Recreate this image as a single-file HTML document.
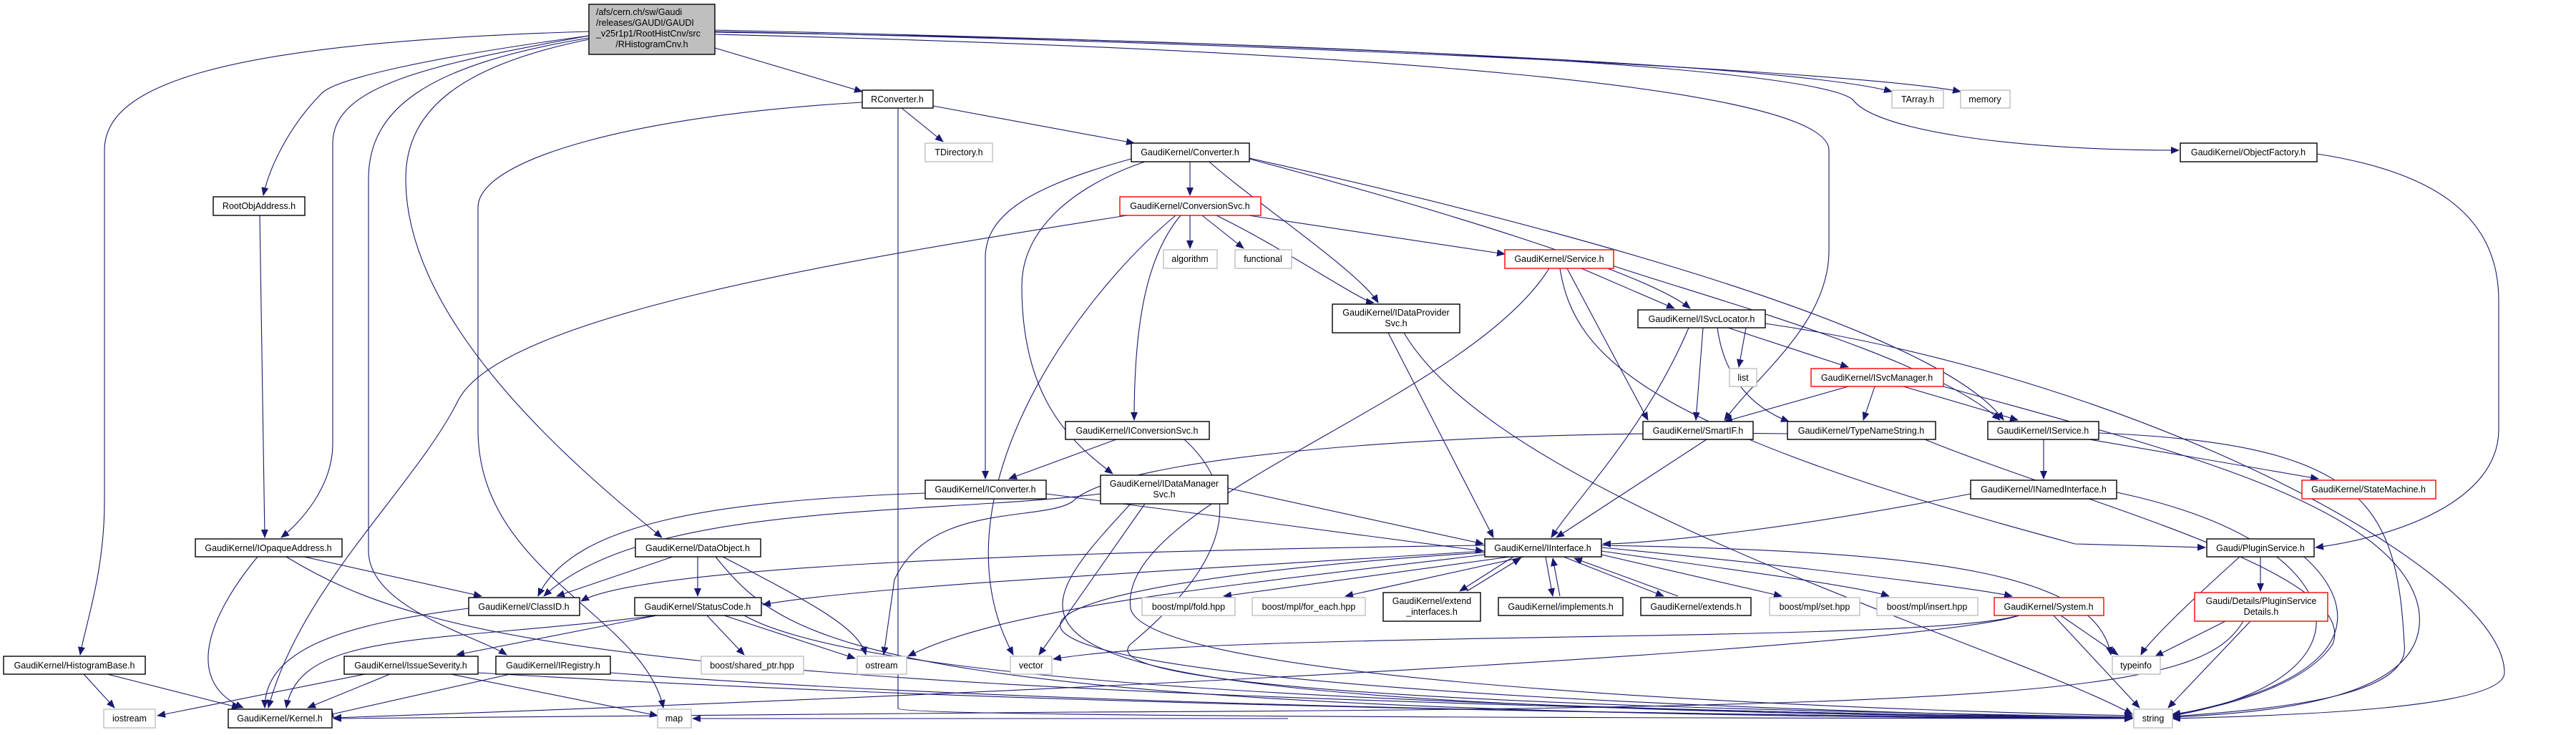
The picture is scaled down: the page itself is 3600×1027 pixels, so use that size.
<!DOCTYPE html>
<html><head><meta charset="utf-8"><style>
html,body{margin:0;padding:0;background:#fff;}
svg{display:block;}
text{font-family:"Liberation Sans",sans-serif;font-size:12.5px;fill:#000;}
.n{fill:#fff;stroke:#000;stroke-width:1.4;}
.g{fill:#fff;stroke:#bfbfbf;stroke-width:1.4;}
.r{fill:#fff;stroke:#ff0000;stroke-width:1.4;}
path{fill:none;stroke:#191970;stroke-width:1.1;}
</style></head><body>
<svg width="3600" height="1027" viewBox="0 0 3600 1027" xmlns="http://www.w3.org/2000/svg">
<defs><marker id="a" markerWidth="12" markerHeight="10" refX="11" refY="5" orient="auto" markerUnits="userSpaceOnUse"><polygon points="0,0 12,5 0,10" fill="#191970"/></marker></defs>
<g marker-end="url(#a)">
<!-- main -->
<path d="M823,44 C300,60 146,120 146,210 L146,700 C146,800 120,870 112,915"/>
<path d="M823,50 C600,80 470,110 450,130 C400,180 375,240 368,273"/>
<path d="M823,50 C600,90 465,120 465,200 L465,620 C465,680 420,730 393,751"/>
<path d="M823,53 C600,90 515,150 515,250 L515,770 C515,850 670,890 708,915"/>
<path d="M823,55 C650,90 567,150 567,250 C567,450 800,650 925,751"/>
<path d="M999,67 L1205,128"/>
<path d="M999,42 C1800,60 2500,90 2644,128"/>
<path d="M999,44 C1800,60 2600,100 2740,128"/>
<path d="M999,45 C2000,60 2550,100 2590,140 C2620,180 2800,210 3045,210"/>
<path d="M999,48 C1900,70 2556,120 2556,210 L2556,350 C2556,450 2460,520 2410,587"/>
<!-- ObjectFactory -->
<path d="M3238,215 C3400,240 3492,300 3492,420 L3492,600 C3492,700 3350,750 3236,765"/>
<!-- RConverter -->
<path d="M1260,151 L1318,198"/>
<path d="M1304,148 L1585,200"/>
<path d="M1255,151 L1255,990 C1260,1000 2000,1003 2980,1004"/>
<path d="M1205,143 C900,160 668,220 668,290 L668,600 C668,800 900,860 927,989"/>
<!-- Converter -->
<path d="M1663,226 L1663,273"/>
<path d="M1690,226 C1750,280 1900,380 1926,423"/>
<path d="M1581,222 C1440,260 1377,300 1377,360 L1377,669"/>
<path d="M1600,226 C1500,260 1428,320 1428,400 C1428,560 1500,620 1555,662"/>
<path d="M1746,222 C2000,290 2300,380 2362,431"/>
<path d="M1746,221 C2100,300 2700,450 2800,587"/>
<!-- ConversionSvc -->
<path d="M1663,301 L1663,347"/>
<path d="M1680,301 L1738,347"/>
<path d="M1745,301 L2103,355"/>
<path d="M1700,301 C1800,350 1900,420 1920,423"/>
<path d="M1650,301 C1600,360 1585,460 1585,587"/>
<path d="M1643,301 C1500,420 1300,700 1416,915"/>
<path d="M1575,301 C1200,360 700,440 640,560 C580,680 420,820 375,989"/>
<!-- Service -->
<path d="M2210,375 L2340,431"/>
<path d="M2250,370 C2400,420 2700,500 2795,587"/>
<path d="M2190,375 L2303,587"/>
<path d="M2165,375 C2050,560 1560,700 1580,850 C1600,950 2500,990 2980,1000"/>
<path d="M2180,375 C2200,500 2300,600 2900,760 L3082,765"/>
<path d="M1940,465 L2087,751"/>
<path d="M1962,465 C2100,700 2800,900 2980,998"/>
<!-- ISvcLocator -->
<path d="M2440,458 L2430,513"/>
<path d="M2415,458 L2583,513"/>
<path d="M2380,458 L2370,587"/>
<path d="M2400,458 C2410,530 2450,570 2500,589"/>
<path d="M2360,458 C2300,600 2200,700 2168,751"/>
<path d="M2467,452 C3000,530 3500,800 3500,940 C3500,990 3200,1000 3036,1004"/>
<!-- ISvcManager -->
<path d="M2583,540 L2410,589"/>
<path d="M2620,540 L2604,587"/>
<path d="M2660,540 L2820,587"/>
<path d="M2716,540 C3000,620 3350,700 3380,850 C3400,970 3200,995 3036,1002"/>
<path d="M2385,614 L2175,751"/>
<path d="M2498,606 C2000,600 1560,640 1500,700 C1460,730 1300,700 1250,810 L1235,915"/>
<path d="M2690,614 C2900,700 3300,800 3260,900 C3220,960 3100,990 3036,998"/>
<path d="M2856,614 L2856,669"/>
<path d="M2920,614 L3240,669"/>
<path d="M2933,605 C3300,620 3350,700 3360,900 C3370,970 3200,990 3036,1001"/>
<path d="M2754,690 C2500,740 2300,760 2240,760"/>
<path d="M2958,688 C3300,760 3330,950 3036,1000"/>
<!-- PluginService -->
<path d="M3130,778 C3050,850 3000,900 2992,915"/>
<path d="M3159,778 L3159,826"/>
<path d="M3220,778 C3300,850 3300,950 3036,999"/>
<path d="M3110,868 L3012,917"/>
<path d="M3145,868 L3030,989"/>
<path d="M3135,868 C3080,960 2900,990 1500,995 C1000,998 600,1002 466,1004"/>
<!-- System -->
<path d="M2880,860 L2960,915"/>
<path d="M2870,860 L2990,989"/>
<path d="M2820,860 C2700,900 1700,880 1472,921"/>
<path d="M2822,860 C2700,900 1700,960 466,1003"/>
<!-- IInterface -->
<path d="M2075,762 C1500,770 900,790 812,840"/>
<path d="M2075,770 C1600,800 1200,820 1066,845"/>
<path d="M2075,775 C1700,820 1400,850 1269,917"/>
<path d="M2110,778 L1710,833"/>
<path d="M2130,778 L1880,833"/>
<path d="M2115,778 L2040,826"/>
<path d="M2050,826 L2125,780"/>
<path d="M2160,778 L2170,833"/>
<path d="M2180,833 L2170,780"/>
<path d="M2185,778 L2325,833"/>
<path d="M2345,833 L2200,780"/>
<path d="M2238,775 L2490,833"/>
<path d="M2238,770 C2450,800 2600,820 2640,833"/>
<path d="M2238,765 C2500,790 2750,820 2812,833"/>
<path d="M2238,762 C2700,770 2930,800 2950,915"/>
<path d="M2075,772 C1300,820 1000,960 2980,1004"/>
<!-- IConversionSvc / IConverter / IDataManagerSvc -->
<path d="M1560,614 L1410,669"/>
<path d="M1655,614 C1750,700 1700,800 1580,900 C1500,980 2600,995 2980,1002"/>
<path d="M1462,690 L2073,770"/>
<path d="M1293,689 C1000,700 800,730 752,833"/>
<path d="M1716,682 L2073,760"/>
<path d="M1538,690 C1300,720 900,700 760,833"/>
<path d="M1600,704 L1452,915"/>
<path d="M1580,704 C1400,900 1300,990 2980,1003"/>
<!-- DataObject / StatusCode -->
<path d="M940,778 L778,833"/>
<path d="M975,778 L975,833"/>
<path d="M1010,778 C1150,850 1200,880 1210,915"/>
<path d="M1000,778 C1100,900 1200,1000 2980,1004"/>
<path d="M918,860 L638,915"/>
<path d="M918,860 C600,900 420,880 400,989"/>
<path d="M988,860 L1040,915"/>
<path d="M1012,860 L1195,920"/>
<path d="M1040,860 C1200,950 1900,990 2980,1003"/>
<!-- IOpaqueAddress etc -->
<path d="M425,778 L673,833"/>
<path d="M360,778 C300,850 250,950 340,989"/>
<path d="M400,778 C600,900 900,970 2980,1004"/>
<path d="M363,301 L370,751"/>
<path d="M117,942 L160,989"/>
<path d="M150,942 L335,989"/>
<path d="M510,942 L220,1000"/>
<path d="M545,942 L430,989"/>
<path d="M630,942 L919,1000"/>
<path d="M668,940 C1500,990 2500,1000 2980,1004"/>
<path d="M713,942 L455,1000"/>
<path d="M853,940 C1500,990 2500,1000 2980,1004"/>
<path d="M655,850 C500,870 370,900 370,989"/>
<path d="M1800,1004 L968,1004"/>
</g>
<!-- nodes -->
<rect x="823" y="6" width="176" height="70" fill="#bfbfbf" stroke="#000" stroke-width="1.4"/>
<text x="833" y="21">/afs/cern.ch/sw/Gaudi</text>
<text x="833" y="36">/releases/GAUDI/GAUDI</text>
<text x="833" y="51">_v25r1p1/RootHistCnv/src</text>
<text x="911" y="66" text-anchor="middle">/RHistogramCnv.h</text>
<g text-anchor="middle">
<rect class="n" x="298" y="275" width="128" height="26"/><text x="362" y="292">RootObjAddress.h</text>
<rect class="n" x="1205" y="126" width="99" height="25"/><text x="1254" y="143">RConverter.h</text>
<rect class="g" x="1293" y="200" width="94" height="26"/><text x="1340" y="217">TDirectory.h</text>
<rect class="n" x="1581" y="200" width="165" height="26"/><text x="1663" y="217">GaudiKernel/Converter.h</text>
<rect class="r" x="1565" y="275" width="197" height="26"/><text x="1663" y="292">GaudiKernel/ConversionSvc.h</text>
<rect class="g" x="1626" y="349" width="75" height="26"/><text x="1663" y="366">algorithm</text>
<rect class="g" x="1726" y="349" width="79" height="26"/><text x="1765" y="366">functional</text>
<rect class="r" x="2103" y="349" width="152" height="26"/><text x="2179" y="366">GaudiKernel/Service.h</text>
<rect class="n" x="1862" y="425" width="178" height="40"/><text x="1951" y="441">GaudiKernel/IDataProvider</text><text x="1951" y="456">Svc.h</text>
<rect class="n" x="2289" y="433" width="178" height="25"/><text x="2378" y="450">GaudiKernel/ISvcLocator.h</text>
<rect class="g" x="2644" y="126" width="72" height="25"/><text x="2680" y="143">TArray.h</text>
<rect class="g" x="2740" y="126" width="69" height="25"/><text x="2774" y="143">memory</text>
<rect class="n" x="3047" y="200" width="191" height="26"/><text x="3142" y="217">GaudiKernel/ObjectFactory.h</text>
<rect class="g" x="2417" y="515" width="38" height="25"/><text x="2436" y="532">list</text>
<rect class="r" x="2531" y="515" width="185" height="25"/><text x="2623" y="532">GaudiKernel/ISvcManager.h</text>
<rect class="n" x="2296" y="589" width="154" height="25"/><text x="2373" y="606">GaudiKernel/SmartIF.h</text>
<rect class="n" x="2498" y="589" width="207" height="25"/><text x="2601" y="606">GaudiKernel/TypeNameString.h</text>
<rect class="n" x="2778" y="589" width="155" height="25"/><text x="2855" y="606">GaudiKernel/IService.h</text>
<rect class="n" x="2754" y="671" width="204" height="26"/><text x="2856" y="688">GaudiKernel/INamedInterface.h</text>
<rect class="r" x="3217" y="671" width="187" height="26"/><text x="3310" y="688">GaudiKernel/StateMachine.h</text>
<rect class="n" x="3084" y="753" width="150" height="25"/><text x="3159" y="770">Gaudi/PluginService.h</text>
<rect class="r" x="2787" y="835" width="153" height="25"/><text x="2863" y="852">GaudiKernel/System.h</text>
<rect class="g" x="2473" y="835" width="126" height="25"/><text x="2536" y="852">boost/mpl/set.hpp</text>
<rect class="g" x="2623" y="835" width="141" height="25"/><text x="2693" y="852">boost/mpl/insert.hpp</text>
<rect class="r" x="3067" y="828" width="186" height="40"/><text x="3160" y="844">Gaudi/Details/PluginService</text><text x="3160" y="859">Details.h</text>
<rect class="g" x="2952" y="917" width="67" height="25"/><text x="2985" y="934">typeinfo</text>
<rect class="g" x="2982" y="991" width="54" height="26"/><text x="3009" y="1008">string</text>
<rect class="n" x="1489" y="589" width="201" height="25"/><text x="1589" y="606">GaudiKernel/IConversionSvc.h</text>
<rect class="n" x="1293" y="671" width="169" height="26"/><text x="1377" y="688">GaudiKernel/IConverter.h</text>
<rect class="n" x="1538" y="664" width="178" height="40"/><text x="1627" y="680">GaudiKernel/IDataManager</text><text x="1627" y="695">Svc.h</text>
<rect class="n" x="2075" y="753" width="163" height="25"/><text x="2156" y="770">GaudiKernel/IInterface.h</text>
<rect class="g" x="1596" y="835" width="130" height="25"/><text x="1661" y="852">boost/mpl/fold.hpp</text>
<rect class="g" x="1750" y="835" width="158" height="25"/><text x="1829" y="852">boost/mpl/for_each.hpp</text>
<rect class="n" x="1933" y="828" width="136" height="40"/><text x="2001" y="844">GaudiKernel/extend</text><text x="2001" y="859">_interfaces.h</text>
<rect class="n" x="2094" y="835" width="174" height="25"/><text x="2181" y="852">GaudiKernel/implements.h</text>
<rect class="n" x="2293" y="835" width="154" height="25"/><text x="2370" y="852">GaudiKernel/extends.h</text>
<rect class="g" x="1198" y="917" width="69" height="25"/><text x="1232" y="934">ostream</text>
<rect class="g" x="1412" y="917" width="58" height="25"/><text x="1441" y="934">vector</text>
<rect class="n" x="273" y="753" width="205" height="25"/><text x="375" y="770">GaudiKernel/IOpaqueAddress.h</text>
<rect class="n" x="888" y="753" width="175" height="25"/><text x="975" y="770">GaudiKernel/DataObject.h</text>
<rect class="n" x="655" y="835" width="155" height="25"/><text x="732" y="852">GaudiKernel/ClassID.h</text>
<rect class="n" x="887" y="835" width="177" height="25"/><text x="975" y="852">GaudiKernel/StatusCode.h</text>
<rect class="n" x="5" y="917" width="198" height="25"/><text x="104" y="934">GaudiKernel/HistogramBase.h</text>
<rect class="n" x="481" y="917" width="187" height="25"/><text x="574" y="934">GaudiKernel/IssueSeverity.h</text>
<rect class="n" x="693" y="917" width="160" height="25"/><text x="773" y="934">GaudiKernel/IRegistry.h</text>
<rect class="g" x="980" y="917" width="143" height="25"/><text x="1051" y="934">boost/shared_ptr.hpp</text>
<rect class="g" x="145" y="991" width="72" height="26"/><text x="181" y="1008">iostream</text>
<rect class="n" x="319" y="991" width="145" height="26"/><text x="391" y="1008">GaudiKernel/Kernel.h</text>
<rect class="g" x="919" y="991" width="47" height="26"/><text x="942" y="1008">map</text>
</g>
</svg>
</body></html>
